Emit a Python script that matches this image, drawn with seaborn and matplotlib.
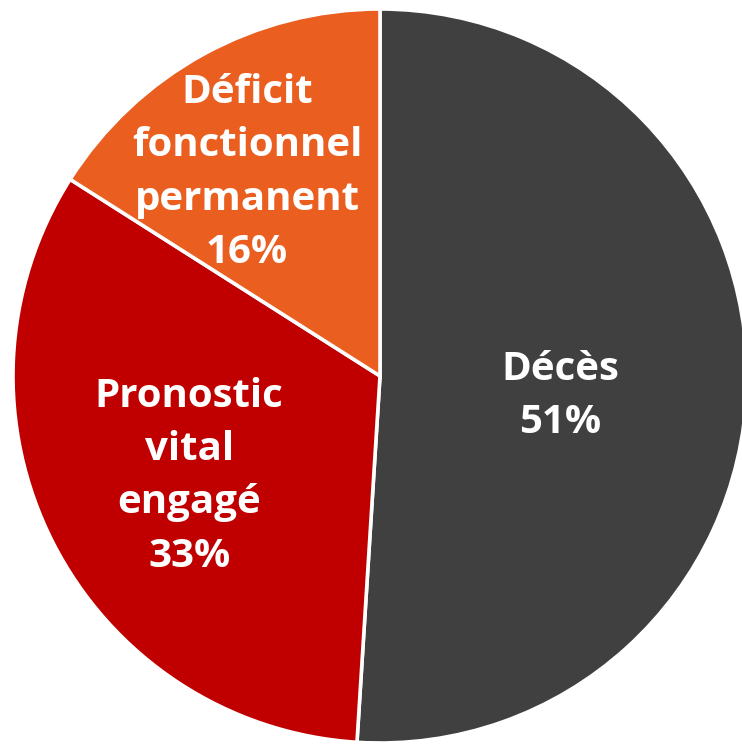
import matplotlib
matplotlib.use("Agg")
import matplotlib.pyplot as plt
import seaborn as sns

# Outcome categories and their shares (%)
categories = ["Décès", "Pronostic\nvital\nengagé", "Déficit\nfonctionnel\npermanent"]
shares = [51, 33, 16]
slice_colors = ["#404040", "#C00000", "#EA5E1F"]

sns.set_theme(style="white")
plt.rcParams["font.family"] = ["Open Sans", "DejaVu Sans"]

fig = plt.figure(figsize=(7.42, 7.44), dpi=100)
ax = fig.add_axes([0, 0, 1, 1])

wedges, _ = ax.pie(
    shares,
    colors=slice_colors,
    startangle=90,
    counterclock=False,
    radius=1.0,
    wedgeprops=dict(edgecolor="white", linewidth=2.6),
)

# Keep the disc slightly off-centre so its right and bottom rims touch the frame
R = 367.0
ax.set_xlim(-380 / R, 362 / R)
ax.set_ylim(-368 / R, 376 / R)
ax.set_aspect("equal")
ax.axis("off")

# Label anchors in axes-fraction coordinates
label_pos = [(0.755, 0.468), (0.255, 0.360), (0.333, 0.768)]
for name, pct, (x, y) in zip(categories, shares, label_pos):
    ax.text(x, y, f"{name}\n{pct}%", transform=ax.transAxes,
            ha="center", va="center", multialignment="center",
            color="white", fontsize=29, fontweight="bold", linespacing=1.48)

fig.savefig("out.png", dpi=100, facecolor="white")
